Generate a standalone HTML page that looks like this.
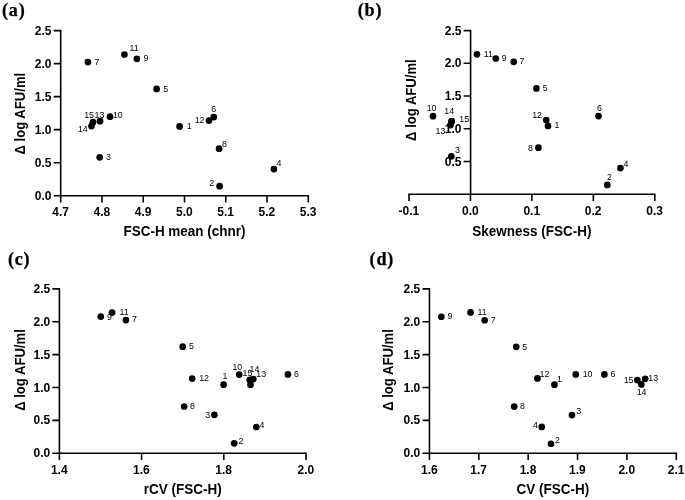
<!DOCTYPE html><html><head><meta charset="utf-8"><style>html,body{margin:0;padding:0;background:#fff}svg{display:block;will-change:transform}text{font-family:"Liberation Sans",sans-serif;fill:#000}.t{font-weight:bold;font-size:12px}.ti{font-weight:bold;font-size:13.9px}.l{font-size:9.4px;fill:#000}.p{font-family:"Liberation Serif",serif;font-weight:bold;font-size:18.1px;letter-spacing:0.8px;stroke:#000;stroke-width:0.25px}.yt{font-weight:bold;font-size:13.8px}</style></head><body>
<svg width="685" height="500" viewBox="0 0 685 500">
<rect width="685" height="500" fill="#fff"/>
<g><path d="M60.70 29.80V196.50M53.70 195.70H309.10M60.70 195.70V202.50M101.97 195.70V202.50M143.23 195.70V202.50M184.50 195.70V202.50M225.77 195.70V202.50M267.03 195.70V202.50M308.30 195.70V202.50M53.70 162.68H60.70M53.70 129.66H60.70M53.70 96.64H60.70M53.70 63.62H60.70M53.70 30.60H60.70" stroke="#000" stroke-width="1.6" fill="none"/><text class="t" x="60.55" y="216.20" text-anchor="middle">4.7</text><text class="t" x="101.82" y="216.20" text-anchor="middle">4.8</text><text class="t" x="143.08" y="216.20" text-anchor="middle">4.9</text><text class="t" x="184.35" y="216.20" text-anchor="middle">5.0</text><text class="t" x="225.62" y="216.20" text-anchor="middle">5.1</text><text class="t" x="266.88" y="216.20" text-anchor="middle">5.2</text><text class="t" x="308.15" y="216.20" text-anchor="middle">5.3</text><text class="t" x="51.50" y="199.80" text-anchor="end">0.0</text><text class="t" x="51.50" y="166.78" text-anchor="end">0.5</text><text class="t" x="51.50" y="133.76" text-anchor="end">1.0</text><text class="t" x="51.50" y="100.74" text-anchor="end">1.5</text><text class="t" x="51.50" y="67.72" text-anchor="end">2.0</text><text class="t" x="51.50" y="34.70" text-anchor="end">2.5</text><text class="ti" transform="translate(184.50 235.90) scale(0.972 1)" text-anchor="middle">FSC-H mean (chnr)</text><text class="yt" transform="translate(25.00 113.65) rotate(-90) scale(0.95 1)" text-anchor="middle">Δ log AFU/ml</text><text class="p" x="2.00" y="15.90">(a)</text><text class="l" transform="translate(94.60 64.70) scale(0.94 1)">7</text><text class="l" transform="translate(129.50 50.50) scale(0.94 1)">11</text><text class="l" transform="translate(143.60 61.40) scale(0.94 1)">9</text><text class="l" transform="translate(163.30 91.50) scale(0.94 1)">5</text><text class="l" transform="translate(84.20 117.50) scale(0.94 1)">15</text><text class="l" transform="translate(94.50 117.50) scale(0.94 1)">13</text><text class="l" transform="translate(77.90 131.70) scale(0.94 1)">14</text><text class="l" transform="translate(112.90 118.30) scale(0.94 1)">10</text><text class="l" transform="translate(186.70 129.10) scale(0.94 1)">1</text><text class="l" transform="translate(194.70 123.40) scale(0.94 1)">12</text><text class="l" transform="translate(211.30 111.50) scale(0.94 1)">6</text><text class="l" transform="translate(221.90 147.20) scale(0.94 1)">8</text><text class="l" transform="translate(106.00 159.80) scale(0.94 1)">3</text><text class="l" transform="translate(276.60 165.80) scale(0.94 1)">4</text><text class="l" transform="translate(209.30 185.90) scale(0.94 1)">2</text><circle cx="87.90" cy="62.10" r="3.35"/><circle cx="124.40" cy="54.50" r="3.35"/><circle cx="136.90" cy="58.80" r="3.35"/><circle cx="156.60" cy="88.90" r="3.35"/><circle cx="93.00" cy="122.20" r="3.35"/><circle cx="100.00" cy="121.20" r="3.35"/><circle cx="91.50" cy="126.10" r="3.35"/><circle cx="110.00" cy="116.70" r="3.35"/><circle cx="179.60" cy="126.40" r="3.35"/><circle cx="209.00" cy="120.60" r="3.35"/><circle cx="213.80" cy="117.10" r="3.35"/><circle cx="219.10" cy="148.70" r="3.35"/><circle cx="99.70" cy="157.30" r="3.35"/><circle cx="273.90" cy="169.10" r="3.35"/><circle cx="219.60" cy="186.20" r="3.35"/></g>
<g><path d="M470.60 29.80V195.00M408.20 194.20H655.60M409.00 194.20V201.00M470.45 194.20V201.00M531.90 194.20V201.00M593.35 194.20V201.00M654.80 194.20V201.00M463.60 161.48H470.60M463.60 128.76H470.60M463.60 96.04H470.60M463.60 63.32H470.60M463.60 30.60H470.60" stroke="#000" stroke-width="1.6" fill="none"/><text class="t" x="408.85" y="214.70" text-anchor="middle">-0.1</text><text class="t" x="470.30" y="214.70" text-anchor="middle">0.0</text><text class="t" x="531.75" y="214.70" text-anchor="middle">0.1</text><text class="t" x="593.20" y="214.70" text-anchor="middle">0.2</text><text class="t" x="654.65" y="214.70" text-anchor="middle">0.3</text><text class="t" x="461.40" y="165.58" text-anchor="end">0.5</text><text class="t" x="461.40" y="132.86" text-anchor="end">1.0</text><text class="t" x="461.40" y="100.14" text-anchor="end">1.5</text><text class="t" x="461.40" y="67.42" text-anchor="end">2.0</text><text class="t" x="461.40" y="34.70" text-anchor="end">2.5</text><text class="ti" transform="translate(531.90 235.80) scale(0.972 1)" text-anchor="middle">Skewness (FSC-H)</text><text class="yt" transform="translate(416.10 100.10) rotate(-90) scale(0.95 1)" text-anchor="middle">Δ log AFU/ml</text><text class="p" x="357.70" y="15.90">(b)</text><text class="l" transform="translate(483.70 56.80) scale(0.94 1)">11</text><text class="l" transform="translate(501.80 61.00) scale(0.94 1)">9</text><text class="l" transform="translate(519.60 64.30) scale(0.94 1)">7</text><text class="l" transform="translate(542.70 91.00) scale(0.94 1)">5</text><text class="l" transform="translate(426.70 111.40) scale(0.94 1)">10</text><text class="l" transform="translate(444.30 114.40) scale(0.94 1)">14</text><text class="l" transform="translate(459.30 121.70) scale(0.94 1)">15</text><text class="l" transform="translate(435.50 133.90) scale(0.94 1)">13</text><text class="l" transform="translate(455.10 152.50) scale(0.94 1)">3</text><text class="l" transform="translate(532.20 118.30) scale(0.94 1)">12</text><text class="l" transform="translate(554.50 128.40) scale(0.94 1)">1</text><text class="l" transform="translate(528.10 150.50) scale(0.94 1)">8</text><text class="l" transform="translate(597.10 111.20) scale(0.94 1)">6</text><text class="l" transform="translate(623.60 166.80) scale(0.94 1)">4</text><text class="l" transform="translate(607.00 179.90) scale(0.94 1)">2</text><circle cx="476.90" cy="54.30" r="3.35"/><circle cx="495.80" cy="58.50" r="3.35"/><circle cx="513.70" cy="61.80" r="3.35"/><circle cx="536.40" cy="88.40" r="3.35"/><circle cx="433.00" cy="116.20" r="3.35"/><circle cx="451.60" cy="121.00" r="3.35"/><circle cx="451.60" cy="121.40" r="3.35"/><circle cx="450.50" cy="125.10" r="3.35"/><circle cx="451.30" cy="156.30" r="3.35"/><circle cx="546.20" cy="120.00" r="3.35"/><circle cx="548.00" cy="125.90" r="3.35"/><circle cx="538.40" cy="147.70" r="3.35"/><circle cx="598.50" cy="116.10" r="3.35"/><circle cx="620.40" cy="168.10" r="3.35"/><circle cx="607.30" cy="184.90" r="3.35"/></g>
<g><path d="M59.40 288.10V454.00M52.40 453.20H306.80M59.40 453.20V460.00M141.60 453.20V460.00M223.80 453.20V460.00M306.00 453.20V460.00M52.40 420.34H59.40M52.40 387.48H59.40M52.40 354.62H59.40M52.40 321.76H59.40M52.40 288.90H59.40" stroke="#000" stroke-width="1.6" fill="none"/><text class="t" x="59.25" y="473.70" text-anchor="middle">1.4</text><text class="t" x="141.45" y="473.70" text-anchor="middle">1.6</text><text class="t" x="223.65" y="473.70" text-anchor="middle">1.8</text><text class="t" x="305.85" y="473.70" text-anchor="middle">2.0</text><text class="t" x="50.20" y="457.30" text-anchor="end">0.0</text><text class="t" x="50.20" y="424.44" text-anchor="end">0.5</text><text class="t" x="50.20" y="391.58" text-anchor="end">1.0</text><text class="t" x="50.20" y="358.72" text-anchor="end">1.5</text><text class="t" x="50.20" y="325.86" text-anchor="end">2.0</text><text class="t" x="50.20" y="293.00" text-anchor="end">2.5</text><text class="ti" transform="translate(182.70 494.40) scale(0.972 1)" text-anchor="middle">rCV (FSC-H)</text><text class="yt" transform="translate(24.50 370.05) rotate(-90) scale(0.95 1)" text-anchor="middle">Δ log AFU/ml</text><text class="p" x="7.90" y="265.00">(c)</text><text class="l" transform="translate(107.00 319.60) scale(0.94 1)">9</text><text class="l" transform="translate(119.60 314.80) scale(0.94 1)">11</text><text class="l" transform="translate(131.90 322.40) scale(0.94 1)">7</text><text class="l" transform="translate(188.90 349.20) scale(0.94 1)">5</text><text class="l" transform="translate(199.20 381.40) scale(0.94 1)">12</text><text class="l" transform="translate(222.40 379.40) scale(0.94 1)">1</text><text class="l" transform="translate(232.40 369.90) scale(0.94 1)">10</text><text class="l" transform="translate(242.50 375.60) scale(0.94 1)">15</text><text class="l" transform="translate(249.50 371.90) scale(0.94 1)">14</text><text class="l" transform="translate(256.30 377.40) scale(0.94 1)">13</text><text class="l" transform="translate(294.00 376.90) scale(0.94 1)">6</text><text class="l" transform="translate(190.00 409.00) scale(0.94 1)">8</text><text class="l" transform="translate(205.30 417.60) scale(0.94 1)">3</text><text class="l" transform="translate(259.50 428.00) scale(0.94 1)">4</text><text class="l" transform="translate(238.40 443.60) scale(0.94 1)">2</text><circle cx="100.80" cy="316.60" r="3.35"/><circle cx="112.10" cy="312.60" r="3.35"/><circle cx="125.90" cy="320.10" r="3.35"/><circle cx="182.70" cy="346.70" r="3.35"/><circle cx="192.20" cy="378.60" r="3.35"/><circle cx="223.60" cy="384.70" r="3.35"/><circle cx="239.20" cy="374.60" r="3.35"/><circle cx="249.70" cy="379.90" r="3.35"/><circle cx="250.50" cy="384.70" r="3.35"/><circle cx="253.30" cy="379.10" r="3.35"/><circle cx="287.90" cy="374.40" r="3.35"/><circle cx="184.20" cy="406.50" r="3.35"/><circle cx="214.40" cy="414.80" r="3.35"/><circle cx="256.30" cy="427.00" r="3.35"/><circle cx="234.20" cy="443.30" r="3.35"/></g>
<g><path d="M429.45 288.10V454.00M422.45 453.20H677.10M429.45 453.20V460.00M478.82 453.20V460.00M528.19 453.20V460.00M577.56 453.20V460.00M626.93 453.20V460.00M676.30 453.20V460.00M422.45 420.34H429.45M422.45 387.48H429.45M422.45 354.62H429.45M422.45 321.76H429.45M422.45 288.90H429.45" stroke="#000" stroke-width="1.6" fill="none"/><text class="t" x="429.30" y="473.70" text-anchor="middle">1.6</text><text class="t" x="478.67" y="473.70" text-anchor="middle">1.7</text><text class="t" x="528.04" y="473.70" text-anchor="middle">1.8</text><text class="t" x="577.41" y="473.70" text-anchor="middle">1.9</text><text class="t" x="626.78" y="473.70" text-anchor="middle">2.0</text><text class="t" x="676.15" y="473.70" text-anchor="middle">2.1</text><text class="t" x="420.25" y="457.30" text-anchor="end">0.0</text><text class="t" x="420.25" y="424.44" text-anchor="end">0.5</text><text class="t" x="420.25" y="391.58" text-anchor="end">1.0</text><text class="t" x="420.25" y="358.72" text-anchor="end">1.5</text><text class="t" x="420.25" y="325.86" text-anchor="end">2.0</text><text class="t" x="420.25" y="293.00" text-anchor="end">2.5</text><text class="ti" transform="translate(552.88 494.40) scale(0.972 1)" text-anchor="middle">CV (FSC-H)</text><text class="yt" transform="translate(393.25 370.05) rotate(-90) scale(0.95 1)" text-anchor="middle">Δ log AFU/ml</text><text class="p" x="369.60" y="265.00">(d)</text><text class="l" transform="translate(447.50 319.10) scale(0.94 1)">9</text><text class="l" transform="translate(477.40 314.80) scale(0.94 1)">11</text><text class="l" transform="translate(490.70 322.60) scale(0.94 1)">7</text><text class="l" transform="translate(522.20 349.50) scale(0.94 1)">5</text><text class="l" transform="translate(539.50 376.70) scale(0.94 1)">12</text><text class="l" transform="translate(557.00 382.10) scale(0.94 1)">1</text><text class="l" transform="translate(582.70 377.10) scale(0.94 1)">10</text><text class="l" transform="translate(610.50 377.10) scale(0.94 1)">6</text><text class="l" transform="translate(623.70 382.90) scale(0.94 1)">15</text><text class="l" transform="translate(648.30 381.10) scale(0.94 1)">13</text><text class="l" transform="translate(636.70 394.60) scale(0.94 1)">14</text><text class="l" transform="translate(520.00 409.10) scale(0.94 1)">8</text><text class="l" transform="translate(576.20 414.30) scale(0.94 1)">3</text><text class="l" transform="translate(533.00 428.30) scale(0.94 1)">4</text><text class="l" transform="translate(555.10 442.50) scale(0.94 1)">2</text><circle cx="441.35" cy="316.75" r="3.35"/><circle cx="470.55" cy="312.45" r="3.35"/><circle cx="484.65" cy="320.25" r="3.35"/><circle cx="516.25" cy="346.85" r="3.35"/><circle cx="537.45" cy="378.45" r="3.35"/><circle cx="554.45" cy="384.65" r="3.35"/><circle cx="575.75" cy="374.45" r="3.35"/><circle cx="604.35" cy="374.45" r="3.35"/><circle cx="637.35" cy="380.05" r="3.35"/><circle cx="645.15" cy="378.75" r="3.35"/><circle cx="641.35" cy="384.45" r="3.35"/><circle cx="514.15" cy="406.55" r="3.35"/><circle cx="571.95" cy="415.05" r="3.35"/><circle cx="541.75" cy="426.95" r="3.35"/><circle cx="550.95" cy="443.75" r="3.35"/></g>
</svg></body></html>
